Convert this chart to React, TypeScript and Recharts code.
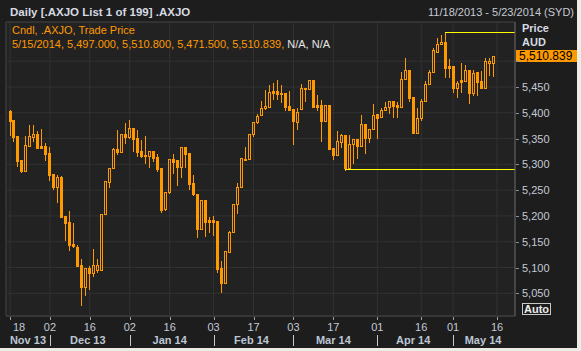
import React from 'react';
import { ComposedChart, Bar, XAxis, YAxis, CartesianGrid, ReferenceLine, ReferenceArea } from 'recharts';

const dates = [
  '11/18/2013','11/19/2013','11/20/2013','11/21/2013','11/22/2013','11/25/2013','11/26/2013','11/27/2013','11/28/2013','11/29/2013',
  '12/2/2013','12/3/2013','12/4/2013','12/5/2013','12/6/2013','12/9/2013','12/10/2013','12/11/2013','12/12/2013','12/13/2013',
  '12/16/2013','12/17/2013','12/18/2013','12/19/2013','12/20/2013','12/23/2013','12/24/2013','12/27/2013','12/30/2013','12/31/2013',
  '1/2/2014','1/3/2014','1/6/2014','1/7/2014','1/8/2014','1/9/2014','1/10/2014','1/13/2014','1/14/2014','1/15/2014',
  '1/16/2014','1/17/2014','1/20/2014','1/21/2014','1/22/2014','1/23/2014','1/24/2014','1/28/2014','1/29/2014','1/30/2014','1/31/2014',
  '2/3/2014','2/4/2014','2/5/2014','2/6/2014','2/7/2014','2/10/2014','2/11/2014','2/12/2014','2/13/2014','2/14/2014',
  '2/17/2014','2/18/2014','2/19/2014','2/20/2014','2/21/2014','2/24/2014','2/25/2014','2/26/2014','2/27/2014','2/28/2014',
  '3/3/2014','3/4/2014','3/5/2014','3/6/2014','3/7/2014','3/10/2014','3/11/2014','3/12/2014','3/13/2014','3/14/2014',
  '3/17/2014','3/18/2014','3/19/2014','3/20/2014','3/21/2014','3/24/2014','3/25/2014','3/26/2014','3/27/2014','3/28/2014','3/31/2014',
  '4/1/2014','4/2/2014','4/3/2014','4/4/2014','4/7/2014','4/8/2014','4/9/2014','4/10/2014','4/11/2014','4/14/2014',
  '4/15/2014','4/16/2014','4/17/2014','4/22/2014','4/23/2014','4/24/2014','4/28/2014','4/29/2014','4/30/2014',
  '5/1/2014','5/2/2014','5/5/2014','5/6/2014','5/7/2014','5/8/2014','5/9/2014','5/12/2014','5/13/2014','5/14/2014','5/15/2014',
];

const opens = [
  5404, 5386, 5355, 5308.5, 5287.8, 5336.3, 5353.7, 5358.9, 5336.3, 5335.6,
  5322.7, 5281.3, 5256.8, 5276.1, 5199.9, 5188.2, 5145.5, 5140.4, 5104.8, 5062.8,
  5098.4, 5090, 5095.2, 5095.2, 5203.1, 5266.4, 5292.3, 5329.1, 5324.6, 5358.9,
  5352.4, 5370.5, 5350.5, 5325.9, 5318.2, 5316.9, 5325.9, 5315, 5292.3, 5212.8,
  5245.8, 5310.4, 5308.5, 5295.5, 5333, 5322.7, 5263.2, 5242.6, 5174.7, 5230.9, 5192.2,
  5192.2, 5190.2, 5098.4, 5070.6, 5130.8, 5168.2, 5222.5, 5255.5, 5311.1, 5309.8,
  5358.9, 5382.8, 5395.7, 5408.7, 5411.9, 5442.3, 5442.3, 5439.1, 5439.1, 5413.2,
  5407.4, 5382.8, 5406.7, 5447.5, 5446.2, 5463.6, 5415.1, 5415.1, 5384.8, 5415.1,
  5332.4, 5318.2, 5344, 5357, 5293.6, 5338.9, 5348.6, 5336.3, 5377.7, 5350.5, 5368,
  5397.1, 5391.3, 5405.5, 5410.6, 5423.6, 5415.2, 5411.9, 5465, 5483, 5431.3,
  5361.5, 5389.3, 5422.9, 5455.2, 5479.8, 5518.6, 5532.8, 5536.7, 5490.8,
  5490.8, 5448.8, 5463.6, 5462.4, 5483, 5437.8, 5478.5, 5461.7, 5448.8, 5497.3, 5497,
];

const highs = [
  5405.4, 5386, 5355, 5308.5, 5355, 5376.3, 5376.3, 5364.7, 5368.6, 5340.8,
  5333, 5281.3, 5279.4, 5277.4, 5200, 5209.6, 5185.6, 5143.6, 5116.5, 5098.4,
  5102.9, 5135.9, 5116.5, 5203.1, 5267.7, 5292.3, 5331, 5366.6, 5358.9, 5379.6,
  5386, 5370.5, 5366.6, 5347.2, 5355, 5326, 5326, 5320.1, 5292.3, 5245.8,
  5309.8, 5320.1, 5308.5, 5333, 5333, 5322.7, 5279.4, 5242.6, 5230.9, 5230.9, 5198.6,
  5199.9, 5190.2, 5112.7, 5132, 5170.8, 5223.2, 5264.6, 5311.7, 5333, 5358.9,
  5382.8, 5397.7, 5422.9, 5444.2, 5453.9, 5457.2, 5463.6, 5453.9, 5439.1, 5442.3,
  5407.4, 5408.7, 5455.9, 5447.5, 5463.6, 5463.6, 5434.5, 5424.8, 5415.1, 5415.1,
  5332.4, 5364.7, 5358.9, 5357, 5357, 5348.6, 5348.6, 5395.8, 5377.7, 5368, 5416.5,
  5397.1, 5410, 5420.3, 5423.6, 5423.6, 5420.3, 5478.5, 5507, 5483, 5431.3,
  5408.7, 5426.8, 5461.7, 5483, 5525, 5544.4, 5550.9, 5556.1, 5503.7,
  5490.8, 5462.4, 5496, 5492.7, 5483, 5483, 5478.5, 5481.7, 5505.7, 5507, 5510.8,
];

const lows = [
  5357, 5345.3, 5296.8, 5285.8, 5287, 5336, 5346, 5332, 5332, 5308.5,
  5269.7, 5252.2, 5227.7, 5198, 5153.3, 5133.9, 5140.4, 5103, 5027.3, 5046.7,
  5058.3, 5084.2, 5092, 5095, 5203, 5256.8, 5292, 5320, 5324, 5340.8,
  5352, 5326.6, 5316.9, 5315, 5303.3, 5295.5, 5307.2, 5287.8, 5208.3, 5212,
  5245, 5283.9, 5260, 5276.1, 5295.5, 5252.2, 5240.6, 5159.8, 5174.7, 5161.1, 5169.5,
  5163.1, 5091.9, 5053.2, 5070.6, 5130.8, 5168, 5205.1, 5255.5, 5308, 5309.8,
  5355, 5380.9, 5395.7, 5408, 5411.9, 5426.1, 5426.1, 5421.6, 5405.4, 5405,
  5339.5, 5368.6, 5406.7, 5422.9, 5446, 5411.9, 5405.4, 5346, 5384.8, 5330.5,
  5310.4, 5318, 5334.3, 5289.1, 5293.6, 5302, 5311.7, 5336.3, 5322.7, 5344, 5368,
  5351.8, 5391, 5405, 5399, 5392.5, 5392.5, 5411.9, 5465, 5422.9, 5360.2,
  5361.5, 5386, 5422.9, 5455, 5479.8, 5518.6, 5532.8, 5470.1, 5470.1,
  5441, 5431.3, 5441, 5462, 5418.4, 5434.6, 5434.6, 5448.8, 5448.8, 5473.3, 5471.5,
];

const closes = [
  5384.7, 5353.7, 5307.2, 5287.1, 5337.5, 5355, 5358.9, 5332.4, 5332.4, 5320.1,
  5279.4, 5256.1, 5274.8, 5198.6, 5186.9, 5143.6, 5142.3, 5103.5, 5062.8, 5098.4,
  5090, 5104.8, 5104.8, 5203.1, 5267.7, 5292.3, 5329.1, 5324, 5358.9, 5352.4,
  5369.9, 5349.2, 5324.6, 5316.9, 5316.9, 5325.9, 5313, 5291, 5211.5, 5245.8,
  5309.8, 5305.2, 5295.5, 5333, 5320.1, 5261.9, 5241.9, 5174.7, 5230.9, 5188.9, 5188.9,
  5188.9, 5097.1, 5070.6, 5132, 5168.2, 5223.2, 5255.5, 5311.7, 5308.5, 5358.9,
  5382.8, 5393.8, 5408.7, 5413.2, 5439.7, 5439.1, 5435.8, 5435.8, 5411.9, 5405.4,
  5384.1, 5400.9, 5447.5, 5445.5, 5463.6, 5411.9, 5411.9, 5384.1, 5415.1, 5330.5,
  5318.2, 5345.3, 5357, 5292.3, 5339.5, 5348.6, 5336.3, 5377.7, 5350.5, 5368, 5395.8,
  5389.3, 5405.5, 5410.6, 5423.6, 5413.2, 5411.9, 5465, 5483, 5429.4, 5360.2,
  5389.3, 5422.9, 5455.2, 5479.8, 5521.8, 5533.5, 5536.7, 5487.6, 5487.6,
  5448.8, 5458.5, 5460.4, 5483, 5437.8, 5477.9, 5460.4, 5448.8, 5500.5, 5500.5, 5510.839,
];

const xTickIdx = [0, 10, 20, 30, 40, 51, 61, 71, 81, 92, 103, 111, 122];
const xTickLabels = ['18', '02', '16', '02', '16', '03', '17', '03', '17', '01', '16', '01', '16'];
const monthLabels = ['Nov 13', 'Dec 13', 'Jan 14', 'Feb 14', 'Mar 14', 'Apr 14', 'May 14'];
const monthStartIdx = [0, 10, 30, 51, 71, 92, 111];
const yTicks = [5050, 5100, 5150, 5200, 5250, 5300, 5350, 5400, 5450, 5500];

const X_DOMAIN: [number, number] = [-1.002, 126.5];
const Y_DOMAIN: [number, number] = [5006, 5576];
const LOW_MARK_IDX = 84;

const FONT = '"Liberation Sans", Arial, sans-serif';
const ORANGE = '#ff9900';
const YELLOW = '#ffff00';
const AXIS_TEXT = '#c3cad6';

const data = dates.map((d, i) => ({
  i,
  date: d,
  o: opens[i],
  h: highs[i],
  l: lows[i],
  c: closes[i],
  range: [lows[i], highs[i]],
}));

const monthCenters = monthStartIdx.map((s, k) => {
  const a = Math.max(X_DOMAIN[0], s - 0.5);
  const b = k + 1 < monthStartIdx.length ? monthStartIdx[k + 1] - 0.5 : X_DOMAIN[1];
  return (a + Math.min(b, X_DOMAIN[1])) / 2;
});

const allXTicks = Array.from(new Set([...xTickIdx, ...monthCenters])).sort((a, b) => a - b);

let hiIdx = 0;
highs.forEach((v, i) => { if (v > highs[hiIdx]) hiIdx = i; });
const last = dates.length - 1;

const fmt0 = (v: number) => v.toLocaleString('en-US');
const fmt3 = (v: number) => v.toLocaleString('en-US', { minimumFractionDigits: 3, maximumFractionDigits: 3 });

function Candle(props: any) {
  const { x, y, width, height, payload } = props;
  if (!payload || x == null || y == null || height == null) return null;
  const { o, h, l, c } = payload;
  const top = Math.min(y, y + height);
  const hgt = Math.abs(height);
  const ppu = h > l ? hgt / (h - l) : 0;
  const py = (v: number) => top + (h - v) * ppu;
  const cx = Math.round(x + width / 2);
  const yHi = Math.round(py(h));
  const yLo = Math.round(py(l));
  const bTop = Math.round(py(Math.max(o, c)));
  const bBot = Math.round(py(Math.min(o, c)));
  const up = c >= o;
  if (up && bBot - bTop >= 2) {
    return (
      <g shapeRendering="crispEdges">
        {bTop > yHi && <rect x={cx} y={yHi} width={1} height={bTop - yHi} fill={ORANGE} />}
        {yLo > bBot && <rect x={cx} y={bBot + 1} width={1} height={yLo - bBot} fill={ORANGE} />}
        <rect x={cx - 1} y={bTop} width={3} height={1} fill={ORANGE} />
        <rect x={cx - 1} y={bBot} width={3} height={1} fill={ORANGE} />
        <rect x={cx - 1} y={bTop} width={1} height={bBot - bTop + 1} fill={ORANGE} />
        <rect x={cx + 1} y={bTop} width={1} height={bBot - bTop + 1} fill={ORANGE} />
      </g>
    );
  }
  return (
    <g shapeRendering="crispEdges">
      <rect x={cx} y={yHi} width={1} height={Math.max(yLo - yHi + 1, 1)} fill={ORANGE} />
      <rect x={cx - 1} y={bTop} width={3} height={Math.max(bBot - bTop + 1, 1)} fill={ORANGE} />
    </g>
  );
}

function XTick(props: any) {
  const { x, y, payload } = props;
  const v = payload && payload.value;
  const k = xTickIdx.indexOf(v);
  const m = monthCenters.indexOf(v);
  const px = Math.round(x) + 0.5;
  const isSep = monthStartIdx.indexOf(v) > 0;
  return (
    <g>
      {k >= 0 && <line x1={px} x2={px} y1={y + 1} y2={y + 4} stroke="#9aa0a8" />}
      {k >= 0 && (
        <text x={k === 0 ? x + 3 : x} y={y + 14.7} textAnchor={k === 0 ? 'start' : 'middle'} fill={AXIS_TEXT} fontSize={11} fontFamily={FONT}>
          {xTickLabels[k]}
        </text>
      )}
      {isSep && <line x1={px} x2={px} y1={y + 19} y2={y + 30} stroke="#c8c8c8" />}
      {m >= 0 && (
        <text x={x} y={y + 28} textAnchor="middle" fill="#bcc6d4" fontSize={11} fontWeight="bold" fontFamily={FONT}>
          {monthLabels[m]}
        </text>
      )}
    </g>
  );
}

function YTick(props: any) {
  const { x, y, payload } = props;
  const yy = Math.round(y) + 0.5;
  const underTag = Math.abs(payload.value - closes[closes.length - 1]) < 14;
  return (
    <g>
      <line x1={x + 1} x2={x + 4} y1={yy} y2={yy} stroke="#8a9099" />
      {!underTag && (
        <text x={x + 7} y={y + 4} fill={AXIS_TEXT} fontSize={11} fontFamily={FONT}>
          {fmt0(payload.value)}
        </text>
      )}
    </g>
  );
}

function PriceTag(props: any) {
  const vb = props.viewBox || {};
  if (vb.x == null) return null;
  const x0 = vb.x + vb.width + 1;
  const yc = vb.y;
  return (
    <g>
      <rect x={x0} y={Math.round(yc) - 6} width={61} height={12} fill={ORANGE} />
      <text x={x0 + 3} y={yc + 4.5} fill="#000" fontSize={12} fontFamily={FONT}>
        {fmt3(closes[last])}
      </text>
    </g>
  );
}

export default function App() {
  const legend2 = `${dates[last]}, ${fmt3(opens[last])}, ${fmt3(highs[last])}, ${fmt3(lows[last])}, ${fmt3(closes[last])}, `;
  return (
    <div style={{ position: 'relative', width: 581, height: 351, background: '#1d1d1d', overflow: 'hidden' }}>
      <style>{`body{margin:0;background:#1d1d1d}`}</style>
      <ComposedChart
        width={581}
        height={351}
        data={data}
        margin={{ top: 22, right: 4, bottom: 4, left: 6 }}
        style={{ position: 'absolute', left: 0, top: 0 }}
      >
        <XAxis
          xAxisId="grid"
          type="number"
          dataKey="i"
          domain={X_DOMAIN}
          ticks={xTickIdx}
          hide
          allowDataOverflow
        />
        <CartesianGrid xAxisId="grid" fill="#222222" stroke="#323232" />
        <XAxis
          type="number"
          dataKey="i"
          domain={X_DOMAIN}
          ticks={allXTicks}
          interval={0}
          tickLine={false}
          tickSize={0}
          tickMargin={0}
          height={31}
          axisLine={{ stroke: '#3c3c3c' }}
          tick={<XTick />}
          allowDataOverflow
        />
        <YAxis
          orientation="right"
          type="number"
          domain={Y_DOMAIN}
          ticks={yTicks}
          interval={0}
          width={62}
          tickLine={false}
          tickSize={0}
          tickMargin={0}
          axisLine={{ stroke: '#5c5c5c' }}
          tick={<YTick />}
          allowDataOverflow
        />
        <ReferenceArea x1={X_DOMAIN[0]} x2={X_DOMAIN[1]} y1={Y_DOMAIN[0]} y2={Y_DOMAIN[1]} fill="none" stroke="#3c3c3c" ifOverflow="visible" />
        <Bar dataKey="range" barSize={3} isAnimationActive={false} shape={(p: any) => <Candle {...p} />} />
        <ReferenceLine
          segment={[{ x: hiIdx, y: highs[hiIdx] }, { x: X_DOMAIN[1], y: highs[hiIdx] }]}
          stroke={YELLOW}
          strokeWidth={1}
          shapeRendering="crispEdges"
          ifOverflow="visible"
        />
        <ReferenceLine
          segment={[{ x: LOW_MARK_IDX, y: lows[LOW_MARK_IDX] }, { x: X_DOMAIN[1], y: lows[LOW_MARK_IDX] }]}
          stroke={YELLOW}
          strokeWidth={1}
          shapeRendering="crispEdges"
          ifOverflow="visible"
        />
        <ReferenceLine y={closes[last]} stroke="none" ifOverflow="visible" label={<PriceTag />} />
      </ComposedChart>
      <svg width={581} height={351} style={{ position: 'absolute', left: 0, top: 0, pointerEvents: 'none' }}>
        <text x={10} y={15.5} fill="#d6dae2" fontSize={11.5} fontWeight="bold" fontFamily={FONT}>
          Daily [.AXJO List 1 of 199] .AXJO
        </text>
        <text x={574} y={16} textAnchor="end" fill="#c6cad2" fontSize={11} fontFamily={FONT}>
          11/18/2013 - 5/23/2014 (SYD)
        </text>
        <text x={12} y={34} fill={ORANGE} fontSize={11} fontFamily={FONT}>
          Cndl, .AXJO, Trade Price
        </text>
        <text x={12} y={48} fontSize={11} fontFamily={FONT} xmlSpace="preserve">
          <tspan fill={ORANGE}>{legend2}</tspan>
          <tspan fill="#e4e4e4">N/A, N/A</tspan>
        </text>
        <text x={522} y={31.5} fill="#d6dae2" fontSize={11} fontWeight="bold" fontFamily={FONT}>Price</text>
        <text x={522} y={46} fill="#d6dae2" fontSize={11} fontWeight="bold" fontFamily={FONT}>AUD</text>
        <rect x={522.5} y={303.5} width={28} height={11} fill="none" stroke="#c8c8c8" />
        <text x={536.5} y={313} textAnchor="middle" fill="#ececec" fontSize={11} fontWeight="bold" fontFamily={FONT}>Auto</text>
        <rect x={577} y={0} width={4} height={351} fill="#ecece6" />
        <rect x={0} y={348} width={581} height={3} fill="#ecece6" />
      </svg>
    </div>
  );
}
